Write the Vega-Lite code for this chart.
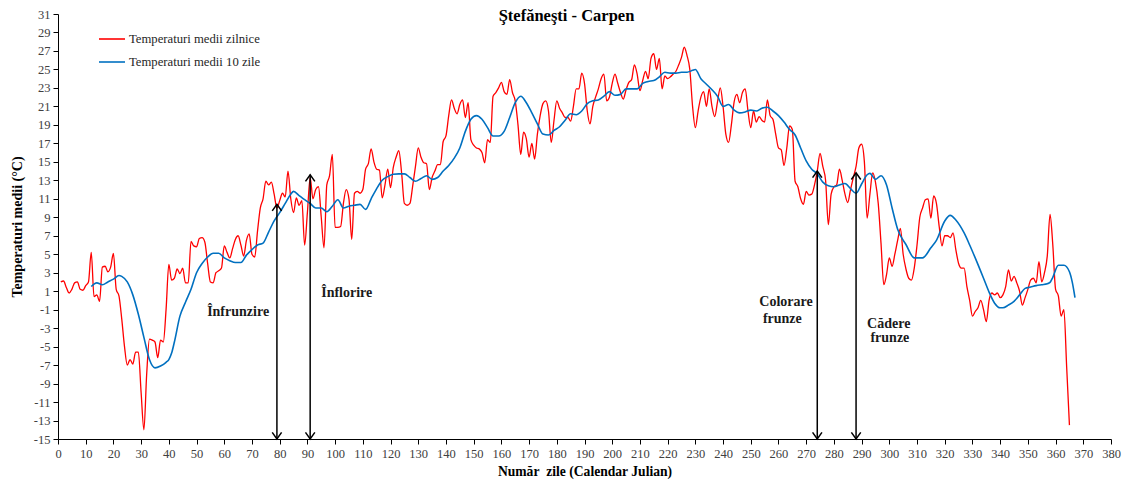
{
"$schema": "https://vega.github.io/schema/vega-lite/v6.json",
"width": 1053, "height": 425,
"autosize": {"type": "none"},
"padding": {"left": 58, "top": 14, "right": 18, "bottom": 47},
"background": "white",
"config": {"view": {"stroke": null}, "font": "Liberation Serif"},
"title": {"text": "Ştefăneşti - Carpen", "font": "Liberation Serif", "fontSize": 16.5, "fontWeight": "bold", "color": "black", "anchor": "middle", "dx": -18, "offset": -24, "baseline": "middle"},
"datasets": {
"zilnice": [
{"d":1,"t":2.0},{"d":2,"t":2.1},{"d":3,"t":1.4},{"d":4,"t":0.8},{"d":5,"t":1.2},{"d":6,"t":1.9},{"d":7,"t":2.0},{"d":8,"t":1.2},{"d":9,"t":1.1},{"d":10,"t":1.6},
{"d":11,"t":2.0},{"d":12,"t":5.2},{"d":13,"t":0.4},{"d":14,"t":0.6},{"d":15,"t":-0.1},{"d":16,"t":3.6},{"d":17,"t":3.7},{"d":18,"t":3.1},{"d":19,"t":3.6},{"d":20,"t":5.1},
{"d":21,"t":1.2},{"d":22,"t":0.5},{"d":23,"t":-2.0},{"d":24,"t":-5.0},{"d":25,"t":-7.0},{"d":26,"t":-6.4},{"d":27,"t":-6.9},{"d":28,"t":-5.6},{"d":29,"t":-5.6},{"d":30,"t":-10.0},
{"d":31,"t":-14.0},{"d":32,"t":-8.0},{"d":33,"t":-4.2},{"d":34,"t":-4.3},{"d":35,"t":-4.5},{"d":36,"t":-6.2},{"d":37,"t":-4.3},{"d":38,"t":-4.5},{"d":39,"t":-1.0},{"d":40,"t":3.9},
{"d":41,"t":2.2},{"d":42,"t":2.4},{"d":43,"t":3.4},{"d":44,"t":2.9},{"d":45,"t":3.5},{"d":46,"t":1.9},{"d":47,"t":1.9},{"d":48,"t":6.4},{"d":49,"t":5.9},{"d":50,"t":5.8},
{"d":51,"t":6.7},{"d":52,"t":6.8},{"d":53,"t":6.3},{"d":54,"t":4.0},{"d":55,"t":2.0},{"d":56,"t":1.9},{"d":57,"t":3.0},{"d":58,"t":3.2},{"d":59,"t":3.5},{"d":60,"t":5.9},
{"d":61,"t":5.2},{"d":62,"t":4.6},{"d":63,"t":5.6},{"d":64,"t":6.6},{"d":65,"t":7.0},{"d":66,"t":6.0},{"d":67,"t":4.8},{"d":68,"t":6.5},{"d":69,"t":7.2},{"d":70,"t":5.0},
{"d":71,"t":4.7},{"d":72,"t":7.5},{"d":73,"t":10.0},{"d":74,"t":11.0},{"d":75,"t":12.9},{"d":76,"t":12.5},{"d":77,"t":12.8},{"d":78,"t":11.5},{"d":79,"t":10.0},{"d":80,"t":10.8},
{"d":81,"t":11.6},{"d":82,"t":11.2},{"d":83,"t":14.0},{"d":84,"t":11.0},{"d":85,"t":9.5},{"d":86,"t":11.1},{"d":87,"t":10.3},{"d":88,"t":10.8},{"d":89,"t":6.0},{"d":90,"t":9.5},
{"d":91,"t":13.3},{"d":92,"t":11.0},{"d":93,"t":12.0},{"d":94,"t":12.3},{"d":95,"t":9.0},{"d":96,"t":5.7},{"d":97,"t":12.5},{"d":98,"t":13.5},{"d":99,"t":15.8},{"d":100,"t":7.9},
{"d":101,"t":7.9},{"d":102,"t":8.0},{"d":103,"t":10.5},{"d":104,"t":12.0},{"d":105,"t":11.0},{"d":106,"t":6.6},{"d":107,"t":11.6},{"d":108,"t":11.8},{"d":109,"t":11.6},{"d":110,"t":12.0},
{"d":111,"t":14.2},{"d":112,"t":14.8},{"d":113,"t":16.4},{"d":114,"t":15.0},{"d":115,"t":14.2},{"d":116,"t":14.1},{"d":117,"t":11.1},{"d":118,"t":12.5},{"d":119,"t":14.2},{"d":120,"t":12.2},
{"d":121,"t":14.4},{"d":122,"t":15.5},{"d":123,"t":16.2},{"d":124,"t":13.8},{"d":125,"t":10.5},{"d":126,"t":10.3},{"d":127,"t":10.5},{"d":128,"t":12.4},{"d":129,"t":14.5},{"d":130,"t":16.5},
{"d":131,"t":15.5},{"d":132,"t":14.9},{"d":133,"t":14.8},{"d":134,"t":12.0},{"d":135,"t":13.3},{"d":136,"t":14.0},{"d":137,"t":14.7},{"d":138,"t":14.7},{"d":139,"t":17.2},{"d":140,"t":17.8},
{"d":141,"t":20.0},{"d":142,"t":21.7},{"d":143,"t":20.8},{"d":144,"t":20.2},{"d":145,"t":21.2},{"d":146,"t":21.7},{"d":147,"t":19.8},{"d":148,"t":21.4},{"d":149,"t":17.4},{"d":150,"t":16.8},
{"d":151,"t":16.5},{"d":152,"t":16.4},{"d":153,"t":16.0},{"d":154,"t":14.9},{"d":155,"t":17.4},{"d":156,"t":17.1},{"d":157,"t":22.1},{"d":158,"t":22.5},{"d":159,"t":23.0},{"d":160,"t":23.6},
{"d":161,"t":22.6},{"d":162,"t":22.3},{"d":163,"t":23.9},{"d":164,"t":22.5},{"d":165,"t":21.6},{"d":166,"t":19.0},{"d":167,"t":15.8},{"d":168,"t":18.2},{"d":169,"t":17.5},{"d":170,"t":15.5},
{"d":171,"t":17.0},{"d":172,"t":15.3},{"d":173,"t":18.0},{"d":174,"t":20.0},{"d":175,"t":21.3},{"d":176,"t":21.6},{"d":177,"t":20.5},{"d":178,"t":17.1},{"d":179,"t":19.5},{"d":180,"t":21.6},
{"d":181,"t":20.8},{"d":182,"t":20.3},{"d":183,"t":19.8},{"d":184,"t":19.8},{"d":185,"t":19.4},{"d":186,"t":21.0},{"d":187,"t":22.9},{"d":188,"t":22.9},{"d":189,"t":24.6},{"d":190,"t":23.5},
{"d":191,"t":20.5},{"d":192,"t":19.1},{"d":193,"t":21.0},{"d":194,"t":22.0},{"d":195,"t":22.9},{"d":196,"t":24.0},{"d":197,"t":24.5},{"d":198,"t":21.6},{"d":199,"t":22.0},{"d":200,"t":23.5},
{"d":201,"t":24.5},{"d":202,"t":23.5},{"d":203,"t":22.5},{"d":204,"t":21.8},{"d":205,"t":22.8},{"d":206,"t":23.6},{"d":207,"t":23.9},{"d":208,"t":25.5},{"d":209,"t":24.5},{"d":210,"t":22.7},
{"d":211,"t":23.8},{"d":212,"t":24.8},{"d":213,"t":24.0},{"d":214,"t":26.2},{"d":215,"t":26.7},{"d":216,"t":25.0},{"d":217,"t":26.2},{"d":218,"t":22.9},{"d":219,"t":24.3},{"d":220,"t":24.0},
{"d":221,"t":24.2},{"d":222,"t":24.5},{"d":223,"t":24.8},{"d":224,"t":25.5},{"d":225,"t":26.3},{"d":226,"t":27.4},{"d":227,"t":26.5},{"d":228,"t":25.0},{"d":229,"t":21.0},{"d":230,"t":18.7},
{"d":231,"t":20.5},{"d":232,"t":22.0},{"d":233,"t":22.6},{"d":234,"t":21.0},{"d":235,"t":22.9},{"d":236,"t":21.0},{"d":237,"t":19.9},{"d":238,"t":21.5},{"d":239,"t":23.0},{"d":240,"t":21.0},
{"d":241,"t":18.0},{"d":242,"t":17.1},{"d":243,"t":19.0},{"d":244,"t":21.5},{"d":245,"t":22.3},{"d":246,"t":21.4},{"d":247,"t":22.5},{"d":248,"t":22.9},{"d":249,"t":20.5},{"d":250,"t":18.7},
{"d":251,"t":20.5},{"d":252,"t":19.3},{"d":253,"t":19.9},{"d":254,"t":19.5},{"d":255,"t":19.3},{"d":256,"t":21.7},{"d":257,"t":20.0},{"d":258,"t":19.6},{"d":259,"t":18.0},{"d":260,"t":16.5},
{"d":261,"t":16.3},{"d":262,"t":14.6},{"d":263,"t":16.5},{"d":264,"t":18.9},{"d":265,"t":18.5},{"d":266,"t":12.9},{"d":267,"t":12.3},{"d":268,"t":11.0},{"d":269,"t":10.4},{"d":270,"t":11.8},
{"d":271,"t":11.4},{"d":272,"t":11.5},{"d":273,"t":12.5},{"d":274,"t":14.0},{"d":275,"t":15.9},{"d":276,"t":14.5},{"d":277,"t":13.0},{"d":278,"t":8.2},{"d":279,"t":11.5},{"d":280,"t":12.3},
{"d":281,"t":12.5},{"d":282,"t":14.2},{"d":283,"t":13.0},{"d":284,"t":11.5},{"d":285,"t":10.6},{"d":286,"t":12.0},{"d":287,"t":13.3},{"d":288,"t":14.5},{"d":289,"t":16.5},{"d":290,"t":16.9},
{"d":291,"t":15.0},{"d":292,"t":8.9},{"d":293,"t":11.5},{"d":294,"t":13.8},{"d":295,"t":12.8},{"d":296,"t":10.5},{"d":297,"t":6.2},{"d":298,"t":1.7},{"d":299,"t":2.8},{"d":300,"t":4.6},
{"d":301,"t":3.7},{"d":302,"t":5.0},{"d":303,"t":6.5},{"d":304,"t":7.8},{"d":305,"t":5.0},{"d":306,"t":3.4},{"d":307,"t":2.4},{"d":308,"t":2.2},{"d":309,"t":3.5},{"d":310,"t":6.0},
{"d":311,"t":9.0},{"d":312,"t":10.0},{"d":313,"t":10.9},{"d":314,"t":11.0},{"d":315,"t":8.9},{"d":316,"t":11.3},{"d":317,"t":10.5},{"d":318,"t":8.0},{"d":319,"t":5.9},{"d":320,"t":7.0},
{"d":321,"t":7.0},{"d":322,"t":6.8},{"d":323,"t":7.3},{"d":324,"t":5.5},{"d":325,"t":4.0},{"d":326,"t":3.5},{"d":327,"t":3.5},{"d":328,"t":1.5},{"d":329,"t":0.0},{"d":330,"t":-1.7},
{"d":331,"t":-1.2},{"d":332,"t":-0.8},{"d":333,"t":0.0},{"d":334,"t":-1.0},{"d":335,"t":-2.3},{"d":336,"t":0.0},{"d":337,"t":0.8},{"d":338,"t":0.6},{"d":339,"t":0.8},{"d":340,"t":0.3},
{"d":341,"t":0.6},{"d":342,"t":1.5},{"d":343,"t":3.3},{"d":344,"t":2.1},{"d":345,"t":2.6},{"d":346,"t":1.9},{"d":347,"t":1.0},{"d":348,"t":-0.5},{"d":349,"t":0.3},{"d":350,"t":1.2},
{"d":351,"t":2.2},{"d":352,"t":2.4},{"d":353,"t":1.9},{"d":354,"t":4.2},{"d":355,"t":2.0},{"d":356,"t":3.0},{"d":357,"t":4.8},{"d":358,"t":9.3},{"d":359,"t":6.0},{"d":360,"t":1.2},
{"d":361,"t":0.5},{"d":362,"t":-1.7},{"d":363,"t":-1.0},{"d":364,"t":-7.2},{"d":365,"t":-13.5}
],
"z10": [
{"d":12,"t":1.5},{"d":14,"t":1.9},{"d":16,"t":1.7},{"d":18,"t":2.0},{"d":20,"t":2.3},{"d":22,"t":2.7},{"d":23,"t":2.6},{"d":25,"t":2.0},{"d":27,"t":0.6},{"d":29,"t":-1.5},
{"d":31,"t":-4.0},{"d":33,"t":-6.4},{"d":35,"t":-7.3},{"d":37,"t":-7.1},{"d":39,"t":-6.7},{"d":40,"t":-6.4},{"d":41,"t":-5.7},{"d":42,"t":-4.5},{"d":44,"t":-1.7},{"d":46,"t":-0.2},
{"d":48,"t":1.2},{"d":50,"t":3.0},{"d":52,"t":4.0},{"d":54,"t":4.7},{"d":56,"t":5.1},{"d":58,"t":5.1},{"d":60,"t":4.6},{"d":62,"t":4.3},{"d":64,"t":4.1},{"d":66,"t":4.1},
{"d":68,"t":4.9},{"d":70,"t":5.5},{"d":72,"t":6.0},{"d":74,"t":6.2},{"d":76,"t":7.4},{"d":78,"t":8.6},{"d":80,"t":9.5},{"d":82,"t":10.5},{"d":84,"t":11.5},{"d":85,"t":11.8},
{"d":87,"t":11.35},{"d":89,"t":10.9},{"d":91,"t":10.5},{"d":93,"t":10.0},{"d":95,"t":10.0},{"d":97,"t":9.6},{"d":99,"t":10.2},{"d":101,"t":10.9},{"d":103,"t":10.0},{"d":105,"t":10.2},
{"d":107,"t":10.3},{"d":109,"t":10.4},{"d":111,"t":9.85},{"d":113,"t":11.0},{"d":115,"t":12.1},{"d":117,"t":13.0},{"d":119,"t":13.4},{"d":121,"t":13.65},{"d":123,"t":13.7},{"d":125,"t":13.7},
{"d":127,"t":13.3},{"d":129,"t":12.9},{"d":131,"t":13.2},{"d":133,"t":13.5},{"d":135,"t":13.1},{"d":137,"t":13.3},{"d":139,"t":14.0},{"d":141,"t":14.6},{"d":143,"t":15.4},{"d":145,"t":16.5},
{"d":147,"t":18.3},{"d":149,"t":19.6},{"d":151,"t":20.0},{"d":153,"t":19.6},{"d":155,"t":18.7},{"d":157,"t":17.8},{"d":159,"t":17.8},{"d":161,"t":18.3},{"d":163,"t":19.8},{"d":165,"t":21.4},
{"d":167,"t":22.1},{"d":169,"t":21.4},{"d":171,"t":20.3},{"d":173,"t":19.1},{"d":175,"t":18.0},{"d":177,"t":17.9},{"d":179,"t":18.4},{"d":181,"t":18.8},{"d":183,"t":19.5},{"d":185,"t":20.2},
{"d":187,"t":20.1},{"d":189,"t":20.5},{"d":191,"t":21.3},{"d":193,"t":21.6},{"d":195,"t":21.7},{"d":197,"t":22.1},{"d":199,"t":22.6},{"d":201,"t":22.2},{"d":203,"t":22.3},{"d":205,"t":22.9},
{"d":207,"t":22.9},{"d":209,"t":22.9},{"d":211,"t":23.5},{"d":213,"t":23.7},{"d":215,"t":23.8},{"d":217,"t":24.2},{"d":219,"t":24.7},{"d":221,"t":24.6},{"d":223,"t":24.6},{"d":225,"t":24.7},
{"d":227,"t":24.7},{"d":229,"t":24.9},{"d":230,"t":25.0},{"d":232,"t":24.0},{"d":234,"t":23.4},{"d":236,"t":22.8},{"d":238,"t":22.1},{"d":240,"t":21.0},{"d":242,"t":21.2},{"d":244,"t":20.6},
{"d":246,"t":20.3},{"d":248,"t":20.4},{"d":250,"t":20.6},{"d":252,"t":20.5},{"d":254,"t":20.8},{"d":256,"t":20.9},{"d":258,"t":20.5},{"d":260,"t":20.0},{"d":262,"t":19.3},{"d":264,"t":18.5},
{"d":266,"t":17.9},{"d":268,"t":16.5},{"d":270,"t":15.1},{"d":272,"t":14.2},{"d":274,"t":13.7},{"d":276,"t":12.8},{"d":278,"t":12.4},{"d":280,"t":12.3},{"d":282,"t":12.5},{"d":284,"t":12.65},
{"d":286,"t":12.1},{"d":288,"t":11.6},{"d":290,"t":12.6},{"d":292,"t":13.6},{"d":293,"t":13.75},{"d":295,"t":13.1},{"d":297,"t":13.5},{"d":299,"t":12.5},{"d":301,"t":10.0},{"d":303,"t":7.7},
{"d":306,"t":6.05},{"d":309,"t":4.6},{"d":312,"t":4.6},{"d":315,"t":5.7},{"d":317,"t":6.5},{"d":320,"t":8.6},{"d":322,"t":9.2},{"d":324,"t":8.7},{"d":327,"t":7.3},{"d":329,"t":6.0},
{"d":331,"t":4.6},{"d":334,"t":2.4},{"d":336,"t":0.9},{"d":338,"t":-0.3},{"d":340,"t":-0.8},{"d":341,"t":-0.8},{"d":343,"t":-0.5},{"d":345,"t":-0.1},{"d":347,"t":0.6},{"d":349,"t":1.3},
{"d":351,"t":1.45},{"d":353,"t":1.6},{"d":355,"t":1.7},{"d":357,"t":1.8},{"d":358,"t":1.95},{"d":359,"t":2.5},{"d":361,"t":3.8},{"d":363,"t":3.8},{"d":365,"t":3.1},{"d":366,"t":2.0},
{"d":367,"t":0.3}
],
"arrows": [
{"d":79,"t":10.4,"t2":-15},{"d":91,"t":13.6,"t2":-15},{"d":274,"t":14.0,"t2":-15},{"d":288,"t":13.8,"t2":-15}
],
"heads": [
{"d":79,"t":10.4,"dir":"sus"},{"d":91,"t":13.6,"dir":"sus"},{"d":274,"t":14.0,"dir":"sus"},{"d":288,"t":13.8,"dir":"sus"},
{"d":79,"t":-15,"dir":"jos"},{"d":91,"t":-15,"dir":"jos"},{"d":274,"t":-15,"dir":"jos"},{"d":288,"t":-15,"dir":"jos"}
],
"labels": [
{"d":65,"t":-1.3,"txt":"Înfrunzire"},
{"d":104.2,"t":0.85,"txt":"Înflorire"},
{"d":262.7,"t":-0.2,"txt":"Colorare"},
{"d":261.4,"t":-2.0,"txt":"frunze"},
{"d":299.8,"t":-2.5,"txt":"Cădere"},
{"d":300.2,"t":-4.1,"txt":"frunze"}
]
},
"encoding": {
"x": {"field": "d", "type": "quantitative",
 "scale": {"domain": [0, 380], "nice": false, "zero": false},
 "axis": {"title": "Număr\u00a0 zile (Calendar Julian)", "values": [0,10,20,30,40,50,60,70,80,90,100,110,120,130,140,150,160,170,180,190,200,210,220,230,240,250,260,270,280,290,300,310,320,330,340,350,360,370,380],
  "grid": false, "domainColor": "black", "domainWidth": 1, "tickColor": "black", "tickSize": 5, "labelFont": "Liberation Serif", "labelFontSize": 12.5, "labelColor": "#404040", "labelPadding": 3, "labelFlush": false, "labelOverlap": false,
  "titleFont": "Liberation Serif", "titleFontSize": 13.6, "titleFontWeight": "bold", "titleColor": "black", "titlePadding": 5}},
"y": {"field": "t", "type": "quantitative",
 "scale": {"domain": [-15, 31], "nice": false, "zero": false},
 "axis": {"title": "Temperaturi medii (°C)", "values": [-15,-13,-11,-9,-7,-5,-3,-1,1,3,5,7,9,11,13,15,17,19,21,23,25,27,29,31], "labelExpr": "'' + datum.value",
  "grid": false, "domainColor": "black", "domainWidth": 1, "tickColor": "black", "tickSize": 5, "labelFont": "Liberation Serif", "labelFontSize": 12.5, "labelColor": "#404040", "labelPadding": 3, "labelOverlap": false,
  "titleFont": "Liberation Serif", "titleFontSize": 14, "titleFontWeight": "bold", "titleColor": "black", "titlePadding": 9}}
},
"layer": [
{"data": {"name": "zilnice"}, "mark": {"type": "line", "interpolate": "monotone", "strokeWidth": 1.3},
 "encoding": {"color": {"datum": "Temperaturi medii zilnice", "type": "nominal",
  "scale": {"domain": ["Temperaturi medii zilnice", "Temperaturi medii 10 zile"], "range": ["#FF0000", "#0070C0"]},
  "legend": {"orient": "none", "legendX": 40, "legendY": 11, "title": null, "symbolType": "stroke", "symbolSize": 676, "symbolStrokeWidth": 1.6, "labelFont": "Liberation Serif", "labelFontSize": 12.7, "labelColor": "#262626", "rowPadding": 2, "labelOffset": 3, "labelLimit": 400}}}},
{"data": {"name": "z10"}, "mark": {"type": "line", "interpolate": "monotone", "strokeWidth": 1.6},
 "encoding": {"color": {"datum": "Temperaturi medii 10 zile", "type": "nominal"}}},
{"data": {"name": "arrows"}, "mark": {"type": "rule", "color": "black", "strokeWidth": 1.5},
 "encoding": {"y2": {"field": "t2"}}},
{"data": {"name": "heads"}, "mark": {"type": "point", "filled": false, "color": "black", "strokeWidth": 1.5, "opacity": 1, "size": 88},
 "encoding": {"shape": {"field": "dir", "type": "nominal", "scale": {"domain": ["sus", "jos"], "range": ["M-1,1.4L0,0L1,1.4", "M-1,-1.4L0,0L1,-1.4"]}, "legend": null}}},
{"data": {"name": "labels"}, "mark": {"type": "text", "font": "Liberation Serif", "fontSize": 14, "fontWeight": "bold", "color": "#1a1a1a", "baseline": "middle", "align": "center"},
 "encoding": {"text": {"field": "txt", "type": "nominal"}}}
]
}
